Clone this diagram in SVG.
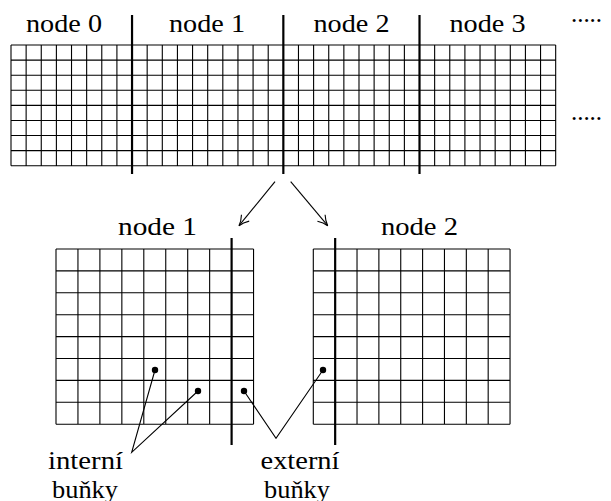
<svg xmlns="http://www.w3.org/2000/svg" width="611" height="501" viewBox="0 0 611 501">
<style>
.grid{fill:none;stroke:#000;stroke-width:1.1}
.sep{fill:none;stroke:#000;stroke-width:2.2}
.lead{fill:none;stroke:#000;stroke-width:1.1}
.arr{fill:none;stroke:#000;stroke-width:1.1;marker-end:url(#head)}
</style>
<defs>
<marker id="head" markerUnits="userSpaceOnUse" orient="auto" refX="0" refY="0" markerWidth="14" markerHeight="14" viewBox="-12 -7 14 14" overflow="visible">
<path d="M -10,-5 Q -5,-1.2 0,0 Q -5,1.2 -10,5" fill="none" stroke="#000" stroke-width="1.1"/>
</marker>
</defs>
<rect width="611" height="501" fill="#fff"/>

<g id="top-grid">
<path class="grid" d="M11,45V165.72 M26.13,45V165.72 M41.26,45V165.72 M56.39,45V165.72 M71.52,45V165.72 M86.65,45V165.72 M101.78,45V165.72 M116.91,45V165.72 M147.17,45V165.72 M162.3,45V165.72 M177.43,45V165.72 M192.56,45V165.72 M207.69,45V165.72 M222.82,45V165.72 M237.95,45V165.72 M253.08,45V165.72 M268.21,45V165.72 M298.47,45V165.72 M313.6,45V165.72 M328.73,45V165.72 M343.86,45V165.72 M358.99,45V165.72 M374.12,45V165.72 M389.25,45V165.72 M404.38,45V165.72 M434.64,45V165.72 M449.77,45V165.72 M464.9,45V165.72 M480.03,45V165.72 M495.16,45V165.72 M510.29,45V165.72 M525.42,45V165.72 M540.55,45V165.72 M555.68,45V165.72 M11,45H555.68 M11,60.09H555.68 M11,75.18H555.68 M11,90.27H555.68 M11,105.36H555.68 M11,120.45H555.68 M11,135.54H555.68 M11,150.63H555.68 M11,165.72H555.68"/>
<path class="sep" d="M132.04,15V174 M283.34,15V174 M419.51,15V174"/>
</g>

<g font-family="Liberation Serif, Times New Roman, serif" font-size="25" fill="#000">
<g id="node0"><text x="26" y="31.5" textLength="76" lengthAdjust="spacingAndGlyphs">node 0</text></g>
<g id="node1"><text x="169" y="31.5" textLength="76" lengthAdjust="spacingAndGlyphs">node 1</text></g>
<g id="node2"><text x="313.5" y="31.5" textLength="76" lengthAdjust="spacingAndGlyphs">node 2</text></g>
<g id="node3"><text x="449.5" y="31.5" textLength="76" lengthAdjust="spacingAndGlyphs">node 3</text></g>
<g id="dots">
<text x="571" y="21.5" textLength="31" lengthAdjust="spacing">.....</text>
<text x="571" y="120" textLength="31" lengthAdjust="spacing">.....</text>
</g>
</g>

<g id="bottom-node1">
<text x="118" y="235" font-family="Liberation Serif, Times New Roman, serif" font-size="25" textLength="79" lengthAdjust="spacingAndGlyphs">node 1</text>
<path class="grid" d="M56,249V424.2 M77.95,249V424.2 M99.9,249V424.2 M121.85,249V424.2 M143.8,249V424.2 M165.75,249V424.2 M187.7,249V424.2 M209.65,249V424.2 M253.55,249V424.2 M56,249H253.55 M56,270.9H253.55 M56,292.8H253.55 M56,314.7H253.55 M56,336.6H253.55 M56,358.5H253.55 M56,380.4H253.55 M56,402.3H253.55 M56,424.2H253.55"/>
<path class="sep" d="M231.6,238V445"/>
</g>

<g id="bottom-node2">
<text x="381" y="235" font-family="Liberation Serif, Times New Roman, serif" font-size="25" textLength="77" lengthAdjust="spacingAndGlyphs">node 2</text>
<path class="grid" d="M313.3,249V424.2 M357.02,249V424.2 M378.88,249V424.2 M400.74,249V424.2 M422.6,249V424.2 M444.46,249V424.2 M466.32,249V424.2 M488.18,249V424.2 M510.04,249V424.2 M313.3,249H510.04 M313.3,270.9H510.04 M313.3,292.8H510.04 M313.3,314.7H510.04 M313.3,336.6H510.04 M313.3,358.5H510.04 M313.3,380.4H510.04 M313.3,402.3H510.04 M313.3,424.2H510.04"/>
<path class="sep" d="M335.16,238V445"/>
</g>

<g font-family="Liberation Serif, Times New Roman, serif" font-size="25" fill="#000">
<g id="interni">
<text x="48" y="469" textLength="75" lengthAdjust="spacingAndGlyphs">interní</text>
<text x="52" y="497.5" textLength="66" lengthAdjust="spacingAndGlyphs">buňky</text>
</g>
<g id="externi">
<text x="260.5" y="469" textLength="79" lengthAdjust="spacingAndGlyphs">externí</text>
<text x="264" y="497.5" textLength="66" lengthAdjust="spacingAndGlyphs">buňky</text>
</g>
</g>

<g id="connectors">
<path class="arr" d="M275,181.7L239,225.7"/>
<path class="arr" d="M290.7,181.7L327.7,225.7"/>
<path class="lead" d="M155,370L131.7,452.3L198,391"/>
<path class="lead" d="M244,391L276,438.3L323,370"/>
<circle cx="155" cy="370" r="3.2"/>
<circle cx="198" cy="391" r="3.2"/>
<circle cx="244" cy="391" r="3.2"/>
<circle cx="323" cy="370" r="3.2"/>
</g>
</svg>
